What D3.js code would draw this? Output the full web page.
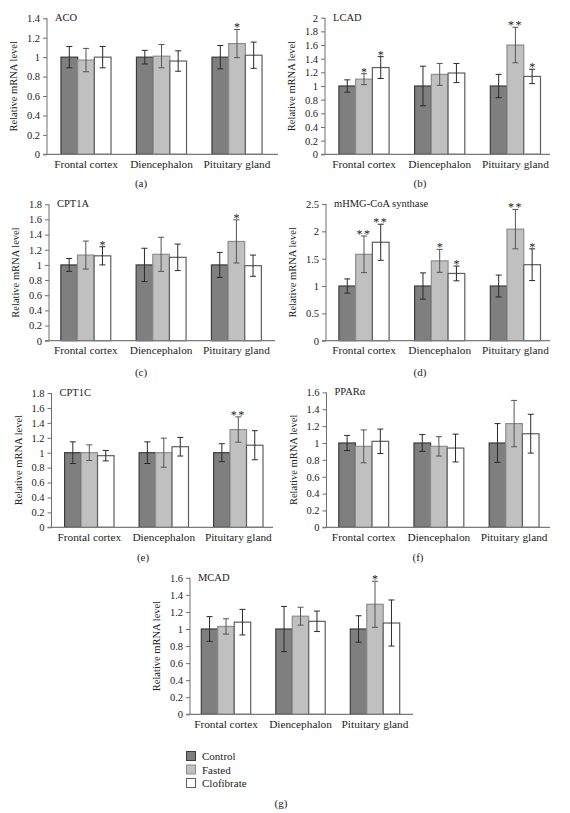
<!DOCTYPE html>
<html>
<head>
<meta charset="utf-8">
<script src="https://cdn.jsdelivr.net/npm/d3@7"></script>
<style>
  html, body { margin: 0; padding: 0; background: #fff; }
  svg text { font-family: "Liberation Serif", "DejaVu Serif", "Times New Roman", serif; fill: #222; }
</style>
</head>
<body>
<svg id="chart" width="570" height="813"></svg>
<script>
// ---------- data ----------
const categories = ["Frontal cortex", "Diencephalon", "Pituitary gland"];
const series = ["Control", "Fasted", "Clofibrate"];
const panelNames = ["ACO", "LCAD", "CPT1A", "mHMG-CoA synthase", "CPT1C", "PPARα", "MCAD"];
const panelLetters = ["(a)", "(b)", "(c)", "(d)", "(e)", "(f)", "(g)"];
const yMaxes = [1.4, 2, 1.8, 2.5, 1.8, 1.6, 1.6];
const yTickSteps = [0.2, 0.2, 0.2, 0.5, 0.2, 0.2, 0.2];

// means[category][series]
const acoMean   = [[1.00, 0.97, 1.00], [1.00, 1.01, 0.96], [1.00, 1.14, 1.02]];
const acoErr    = [[0.11, 0.12, 0.11], [0.07, 0.12, 0.105], [0.12, 0.145, 0.135]];
const acoSig    = [["", "", ""], ["", "", ""], ["", "*", ""]];

const lcadMean  = [[1.00, 1.10, 1.27], [1.00, 1.17, 1.19], [1.00, 1.60, 1.14]];
const lcadErr   = [[0.09, 0.08, 0.16], [0.29, 0.16, 0.14], [0.17, 0.26, 0.105]];
const lcadSig   = [["", "*", "*"], ["", "", ""], ["", "**", "*"]];

const cpt1aMean = [[1.00, 1.13, 1.12], [1.00, 1.14, 1.10], [1.00, 1.31, 0.99]];
const cpt1aErr  = [[0.085, 0.185, 0.12], [0.22, 0.225, 0.175], [0.165, 0.285, 0.14]];
const cpt1aSig  = [["", "", "*"], ["", "", ""], ["", "*", ""]];

const hmgMean   = [[1.00, 1.58, 1.80], [1.00, 1.46, 1.23], [1.00, 2.04, 1.39]];
const hmgErr    = [[0.13, 0.335, 0.33], [0.24, 0.21, 0.135], [0.20, 0.36, 0.29]];
const hmgSig    = [["", "**", "**"], ["", "*", "*"], ["", "**", "*"]];

const cpt1cMean = [[1.00, 1.00, 0.96], [1.00, 1.00, 1.08], [1.00, 1.31, 1.10]];
const cpt1cErr  = [[0.145, 0.105, 0.07], [0.145, 0.195, 0.125], [0.12, 0.17, 0.195]];
const cpt1cSig  = [["", "", ""], ["", "", ""], ["", "**", ""]];

const pparMean  = [[1.00, 0.96, 1.02], [1.00, 0.96, 0.94], [1.00, 1.23, 1.11]];
const pparErr   = [[0.09, 0.195, 0.145], [0.10, 0.115, 0.165], [0.23, 0.275, 0.23]];
const pparSig   = [["", "", ""], ["", "", ""], ["", "", ""]];

const mcadMean  = [[1.00, 1.03, 1.08], [1.00, 1.15, 1.09], [1.00, 1.29, 1.07]];
const mcadErr   = [[0.145, 0.09, 0.15], [0.265, 0.105, 0.12], [0.155, 0.27, 0.27]];
const mcadSig   = [["", "", ""], ["", "", ""], ["", "*", ""]];

const allMeans = [acoMean, lcadMean, cpt1aMean, hmgMean, cpt1cMean, pparMean, mcadMean];
const allErrs  = [acoErr, lcadErr, cpt1aErr, hmgErr, cpt1cErr, pparErr, mcadErr];
const allSigs  = [acoSig, lcadSig, cpt1aSig, hmgSig, cpt1cSig, pparSig, mcadSig];

// ---------- layout (pixels) ----------
const layout = [
  { ax: 47,  y0: 154.3, yt: 18.3,  xe: 278, c0: 86,   step: 75.5, lx: 141, ly: 187 },
  { ax: 325, y0: 154.3, yt: 17.7,  xe: 550, c0: 364,  step: 75.7, lx: 420, ly: 187 },
  { ax: 49,  y0: 340.7, yt: 204.3, xe: 275, c0: 85.8, step: 75.3, lx: 141, ly: 376 },
  { ax: 326, y0: 340.7, yt: 204,   xe: 550, c0: 364,  step: 75.7, lx: 420, ly: 376 },
  { ax: 51.5,y0: 527.3, yt: 393,   xe: 273, c0: 89.3, step: 74.5, lx: 143, ly: 561 },
  { ax: 326.5,y0: 527.3,yt: 392.4, xe: 550, c0: 363.7,step: 75.2, lx: 418, ly: 561 },
  { ax: 190, y0: 714.3, yt: 577.8, xe: 413, c0: 226,  step: 74.5, lx: 281, ly: 807 }
];

const FONT = '"Liberation Serif", "DejaVu Serif", "Times New Roman", serif';
const fills   = ["#7f7f7f", "#c0c0c0", "#ffffff"];
const strokes = ["#3c3c3c", "#8e8e8e", "#5e5e5e"];

const svg = d3.select("#chart");

function txt(sel, size) {
  return sel.attr("font-family", FONT).style("font-family", FONT).style("font-size", size + "px").attr("fill", "#222");
}

panelNames.forEach((name, p) => {
  const L = layout[p];
  const g = svg.append("g");
  const y = d3.scaleLinear().domain([0, yMaxes[p]]).range([L.y0, L.yt]);
  const n = categories.length;
  const x = d3.scaleBand().domain(categories)
    .range([L.c0 - L.step / 2, L.c0 - L.step / 2 + L.step * n])
    .paddingInner(0.337).paddingOuter(0.337 / 2);
  const xs = d3.scaleBand().domain(series).range([0, x.bandwidth()]);

  // y axis
  const ticks = d3.range(0, yMaxes[p] + 1e-9, yTickSteps[p]).map(v => +v.toFixed(2));
  const yAxis = d3.axisLeft(y).tickValues(ticks).tickSize(4).tickPadding(3)
    .tickFormat(d => String(+d.toFixed(2)));
  const ya = g.append("g").attr("transform", `translate(${L.ax},0)`).call(yAxis);
  ya.attr("font-family", FONT);
  ya.select(".domain").attr("stroke", "#6e6e6e").attr("d", `M0,${L.y0}V${L.yt}`);
  ya.selectAll(".tick line").attr("stroke", "#6e6e6e");
  txt(ya.selectAll(".tick text"), 10.5);

  // bars
  categories.forEach((cat, ci) => {
    series.forEach((s, si) => {
      const v = allMeans[p][ci][si];
      const e = allErrs[p][ci][si];
      const bx = x(cat) + xs(s);
      const bw = xs.bandwidth();
      g.append("rect")
        .attr("x", bx).attr("y", y(v))
        .attr("width", bw).attr("height", y(0) - y(v))
        .attr("fill", fills[si]).attr("stroke", strokes[si]).attr("stroke-width", 1.2);
      const cx = bx + bw / 2;
      const eg = g.append("g").attr("stroke", si === 1 ? "#555" : "#2a2a2a").attr("stroke-width", 1);
      eg.append("line").attr("x1", cx).attr("x2", cx).attr("y1", y(v + e)).attr("y2", y(v - e));
      eg.append("line").attr("x1", cx - 3).attr("x2", cx + 3).attr("y1", y(v + e)).attr("y2", y(v + e));
      eg.append("line").attr("x1", cx - 3).attr("x2", cx + 3).attr("y1", y(v - e)).attr("y2", y(v - e));
      const sig = allSigs[p][ci][si];
      if (sig) {
        txt(g.append("text"), 12).attr("x", cx).attr("y", y(v + e) + 2)
          .attr("text-anchor", "middle")
          .style("letter-spacing", sig.length > 1 ? "1.5px" : "0px")
          .attr("fill", "#444").text(sig);
      }
    });
  });

  // x axis line
  g.append("line").attr("x1", L.ax - 4).attr("x2", L.xe)
    .attr("y1", L.y0).attr("y2", L.y0).attr("stroke", "#7a7a7a").attr("stroke-width", 1.2);

  // category labels
  categories.forEach(cat => {
    txt(g.append("text"), 11.3).attr("x", x(cat) + x.bandwidth() / 2).attr("y", L.y0 + 13.5)
      .attr("text-anchor", "middle").text(cat);
  });

  // y label
  txt(g.append("text"), 10.5)
    .attr("transform", `translate(${L.ax - 30},${(L.y0 + L.yt) / 2}) rotate(-90)`)
    .attr("text-anchor", "middle").text("Relative mRNA level");

  // panel title
  txt(g.append("text"), 10.5).attr("x", L.ax + 8).attr("y", L.yt + 3).text(name);

  // panel letter
  txt(g.append("text"), 11).attr("x", L.lx).attr("y", L.ly)
    .attr("text-anchor", "middle").text(panelLetters[p]);
});

// legend
const lg = svg.append("g");
series.forEach((s, i) => {
  const yy = 756 + i * 13.5;
  lg.append("rect").attr("x", 186.5).attr("y", yy - 4.5).attr("width", 9).attr("height", 9)
    .attr("fill", fills[i]).attr("stroke", strokes[i]).attr("stroke-width", 1);
  txt(lg.append("text"), 11).attr("x", 202).attr("y", yy + 4).text(s);
});
</script>
</body>
</html>
